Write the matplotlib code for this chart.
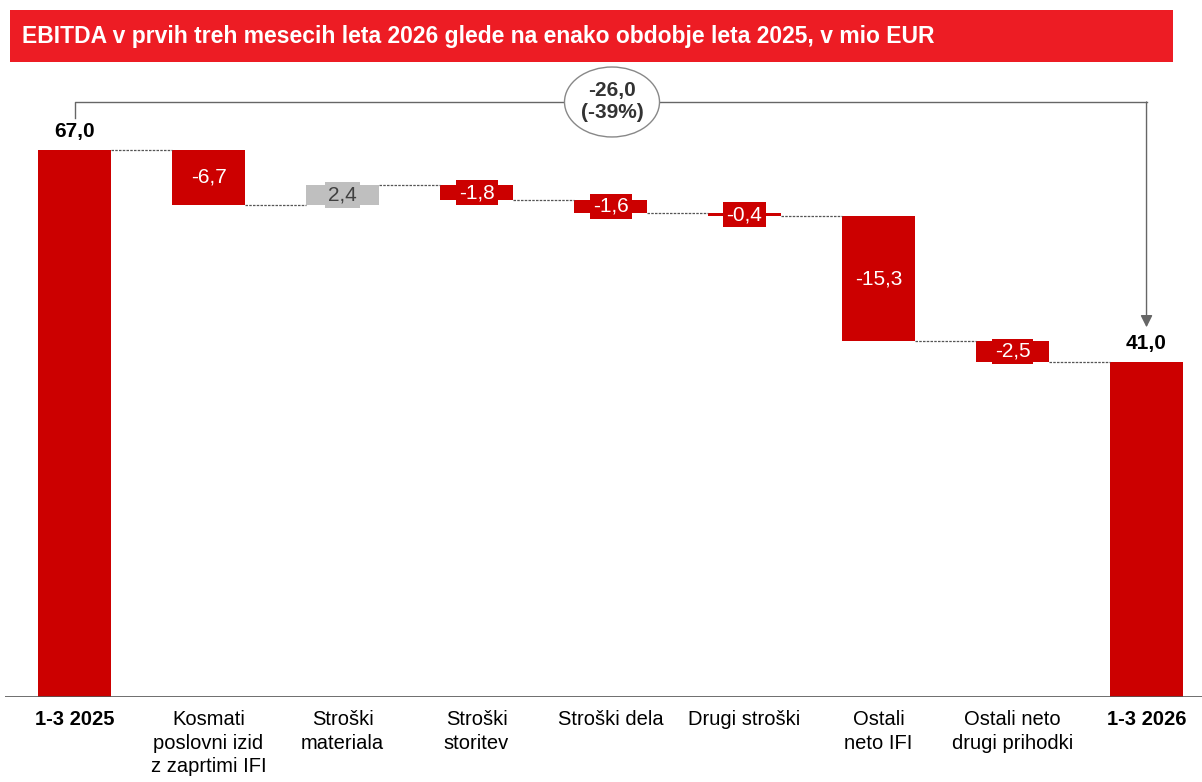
import matplotlib.pyplot as plt
from matplotlib.patches import Ellipse, Rectangle

plt.rcParams['font.family'] = ['Liberation Sans Narrow', 'Liberation Sans', 'DejaVu Sans']

categories = ["1-3 2025", "Kosmati\nposlovni izid\nz zaprtimi IFI", "Stroški\nmateriala",
              "Stroški\nstoritev", "Stroški dela", "Drugi stroški", "Ostali\nneto IFI",
              "Ostali neto\ndrugi prihodki", "1-3 2026"]
start_value = 67.0
changes = [-6.7, 2.4, -1.8, -1.6, -0.4, -15.3, -2.5]
end_value = 41.0
diff_label = "-26,0\n(-39%)"
title = "EBITDA v prvih treh mesecih leta 2026 glede na enako obdobje leta 2025, v mio EUR"

red = "#CC0000"
grey = "#BFBFBF"
title_red = "#ED1C24"

fig = plt.figure(figsize=(12.02, 7.82), dpi=100)
ax = fig.add_axes([5 / 1202, 85 / 782, 1197 / 1202, 635 / 782])
ax.set_xlim(-0.519, 8.414)
ax.set_ylim(0, 77.8)
ax.axis("off")

w = 0.545
fmt = lambda v: f"{v:.1f}".replace(".", ",")

# start and end totals
ax.bar(0, start_value, width=w, color=red)
ax.bar(8, end_value, width=w, color=red)
ax.text(0, start_value + 1.1, fmt(start_value), ha="center", va="bottom",
        fontsize=15, fontweight="bold")
ax.text(8, end_value + 1.1, fmt(end_value), ha="center", va="bottom",
        fontsize=15, fontweight="bold")

level = start_value
levels = [level]
for i, c in enumerate(changes, start=1):
    bottom = level if c > 0 else level + c
    col = grey if c > 0 else red
    ax.bar(i, abs(c), bottom=bottom, width=w, color=col)
    tcol = "#404040" if c > 0 else "white"
    ax.text(i, bottom + abs(c) / 2, fmt(c), ha="center", va="center", fontsize=15,
            color=tcol, bbox=dict(boxstyle="square,pad=0.15", fc=col, ec="none"))
    level += c
    levels.append(level)

# connectors
for i, lv in enumerate(levels):
    ax.plot([i + w / 2, i + 1 - w / 2], [lv, lv], ls=(0, (2, 1)), color="#555555", lw=0.9)

# bracket with arrow
ax.plot([0, 0, 8], [70.9, 72.9, 72.9], color="#666666", lw=1)
ax.annotate("", xy=(8, 45.3), xytext=(8, 72.9),
            arrowprops=dict(arrowstyle="-|>", color="#666666", lw=1, mutation_scale=18,
                            shrinkA=0, shrinkB=0))
ax.add_patch(Ellipse((4.011, 72.9), 0.709, 8.57, fc="white", ec="#888888", lw=1,
                     clip_on=False, zorder=3))
ax.text(4.011, 72.9, diff_label, ha="center", va="center", fontsize=15,
        fontweight="bold", color="#333333", zorder=4, linespacing=1.2)

# baseline
ax.axhline(0, color="#555555", lw=1.2)

# category labels
for i, cat in enumerate(categories):
    bold = i in (0, len(categories) - 1)
    ax.text(i, -1.6, cat, ha="center", va="top", fontsize=14.5, linespacing=1.3,
            fontweight="bold" if bold else "normal")

# title banner
fig.patches.append(Rectangle((10 / 1202, 1 - 62 / 782), 1163 / 1202, 52 / 782,
                             transform=fig.transFigure, fc=title_red, ec="none"))
fig.text(22 / 1202, 1 - 36 / 782, title, ha="left", va="center", fontsize=16.5,
         fontweight="bold", color="white")

fig.savefig("out.png", dpi=100)
